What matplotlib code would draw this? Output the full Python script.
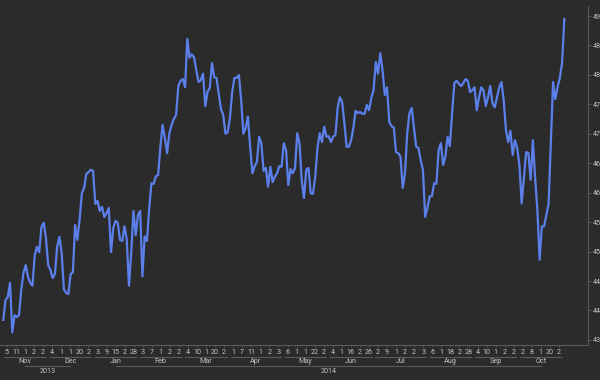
import numpy as np
import matplotlib
matplotlib.use("agg")
import matplotlib.pyplot as plt
from matplotlib.transforms import blended_transform_factory

plt.rcParams["font.family"] = ["Roboto", "DejaVu Sans"]

# daily closes
prices = [
    438.4, 441.8, 442.3, 444.7, 436.3, 439.2, 438.9, 439.2, 443.5, 446.4,
    447.7, 445.7, 444.7, 444.2, 449.4, 450.8, 449.9, 454.2, 454.9, 452.3,
    447.7, 446.9, 445.5, 446.2, 450.8, 452.5, 449.8, 443.6, 443.0, 442.8,
    446.2, 446.5, 454.5, 452.0, 455.4, 459.9, 460.8, 463.2, 463.5, 463.9,
    463.7, 458.1, 458.6, 456.9, 457.6, 455.9, 456.5, 457.4, 449.9, 454.0,
    455.2, 454.9, 452.0, 451.8, 454.3, 452.1, 444.2, 449.8, 456.9, 452.8,
    456.2, 456.9, 445.8, 452.6, 451.8, 457.2, 461.6, 461.5, 462.8, 463.0,
    467.8, 471.5, 469.3, 466.7, 470.1, 471.5, 472.5, 473.2, 478.1, 479.0,
    479.3, 477.9, 486.1, 482.9, 483.5, 483.0, 480.8, 478.8,
    479.1, 480.2, 474.7, 477.1, 477.8, 482.0, 479.6, 479.5, 476.9, 474.2,
    473.2, 470.0, 470.3, 472.7, 477.1, 479.5, 479.5, 480.0, 475.7, 470.0,
    471.0, 472.9, 467.8, 463.3, 464.5, 465.2, 469.5, 468.4, 463.7, 464.2,
    461.0, 464.4, 461.8, 462.7, 463.3, 464.5, 464.4, 468.4, 467.2, 461.3,
    464.0, 463.3, 464.2, 470.1, 468.4, 462.0, 459.1, 463.9, 464.2, 459.9,
    459.8, 462.7, 467.6, 470.1, 468.6, 471.2, 469.5, 469.6, 468.6, 469.5,
    469.8, 474.4, 476.2, 475.4, 471.8, 467.8, 467.8, 468.9, 471.0, 473.9,
    473.5, 473.7, 473.4, 473.4, 474.9, 474.0, 476.1, 477.4, 482.2, 480.2,
    483.7, 480.8, 476.6, 477.9, 472.0, 471.3, 471.1, 466.9, 466.7,
    466.1, 460.8, 463.3, 470.1, 473.5, 474.4, 471.0, 467.8, 467.6, 465.5,
    463.9, 455.9, 457.4, 459.4, 459.4, 461.6, 461.5, 467.2, 468.4, 464.7,
    466.1, 469.5, 467.9, 473.5, 478.6, 479.0, 478.5, 478.1, 478.6, 479.3,
    479.0, 477.1, 477.4, 477.9, 474.0, 476.2, 477.9, 477.4, 474.7, 476.2,
    478.1, 475.2, 474.5, 476.2, 477.9, 478.8, 475.7, 470.6, 468.6, 470.5,
    466.4, 468.9, 467.6, 464.7, 458.2, 462.5, 466.9, 466.7, 462.2, 468.9,
    462.5, 457.1, 448.6, 454.3, 454.3, 456.2, 458.1, 468.4, 478.8, 475.9,
    477.9, 479.5, 482.0, 489.5,
]

day_labels = [
    "5", "11", "1", "2", "2",
    "4", "1", "1", "20", "2",
    "3", "9", "15", "2", "28",
    "3", "7", "1", "2", "2",
    "4", "10", "1", "20", "2",
    "1", "7", "11", "1", "2", "3",
    "6", "1", "1", "22", "2",
    "4", "1", "16", "2", "26",
    "2", "9", "1", "2", "2", "3",
    "6", "1", "18", "2", "28",
    "4", "10", "1", "2", "2",
    "2", "8", "1", "20", "2",
]
months = ["Nov", "Dec", "Jan", "Feb", "Mar", "Apr", "May", "Jun", "Jul", "Aug", "Sep", "Oct"]
ticks_per_month = [5, 5, 5, 5, 5, 6, 5, 5, 6, 5, 5, 5]
years = ["2013", "2014"]
months_per_year = [2, 10]

yticks = [435, 440, 445, 450, 455, 460, 465, 470, 475, 480, 485, 490]

BG = "#2b2b2b"
LINE = "#5b80ec"
TXT = "#c4c4c4"
AX = "#5a5a5a"
FS = 5.2

W, H = 600, 380
fig = plt.figure(figsize=(W / 100, H / 100), dpi=100, facecolor=BG)
ax = fig.add_axes([0, 1 - 345 / H, 588 / W, (345 - 6) / H], facecolor=BG)

n = len(prices)
x = np.arange(n)
ppi = (564.3 - 3.3) / (n - 1)   # pixels per data point


def px2idx(px):
    return (np.asarray(px) - 3.3) / ppi


ax.plot(x, prices, color=LINE, lw=1.6, solid_joinstyle="round")
ax.set_xlim(px2idx(0), px2idx(588))
ax.set_ylim(434.14, 491.7)

for s in ["left", "top"]:
    ax.spines[s].set_visible(False)
for s in ["right", "bottom"]:
    ax.spines[s].set_color(AX)
    ax.spines[s].set_linewidth(0.8)

ax.yaxis.tick_right()
ax.set_yticks(yticks)
ax.tick_params(axis="y", colors=AX, labelcolor=TXT, labelsize=FS, length=2.5, width=0.8, pad=0.8)

tick_pos = px2idx(np.linspace(7, 559, len(day_labels)))
ax.set_xticks(tick_pos)
ax.set_xticklabels(day_labels)
ax.tick_params(axis="x", colors=AX, labelcolor=TXT, labelsize=FS, length=1.5, width=0.6, pad=1.5)

# month and year rows under the day labels
tr = blended_transform_factory(ax.transData, fig.transFigure)


def fy(py):
    return 1 - py / H


start = 0
month_centers = []
for m, k in zip(months, ticks_per_month):
    grp = tick_pos[start:start + k]
    ax.plot([grp[0] - 1.2, grp[-1] + 1.2], [fy(356.5)] * 2, color=AX, lw=0.8,
            transform=tr, clip_on=False)
    c = grp.mean()
    month_centers.append(c)
    ax.text(c, fy(361.5), m, color=TXT, fontsize=FS, ha="center", va="center",
            transform=tr, clip_on=False)
    start += k

start = 0
for yname, k in zip(years, months_per_year):
    grp = month_centers[start:start + k]
    ax.plot([grp[0], grp[-1]], [fy(366)] * 2, color=AX, lw=0.8,
            transform=tr, clip_on=False)
    ax.text((grp[0] + grp[-1]) / 2, fy(371.5), yname, color=TXT, fontsize=FS,
            ha="center", va="center", transform=tr, clip_on=False)
    start += k

fig.savefig("out.png", dpi=100, facecolor=BG)
